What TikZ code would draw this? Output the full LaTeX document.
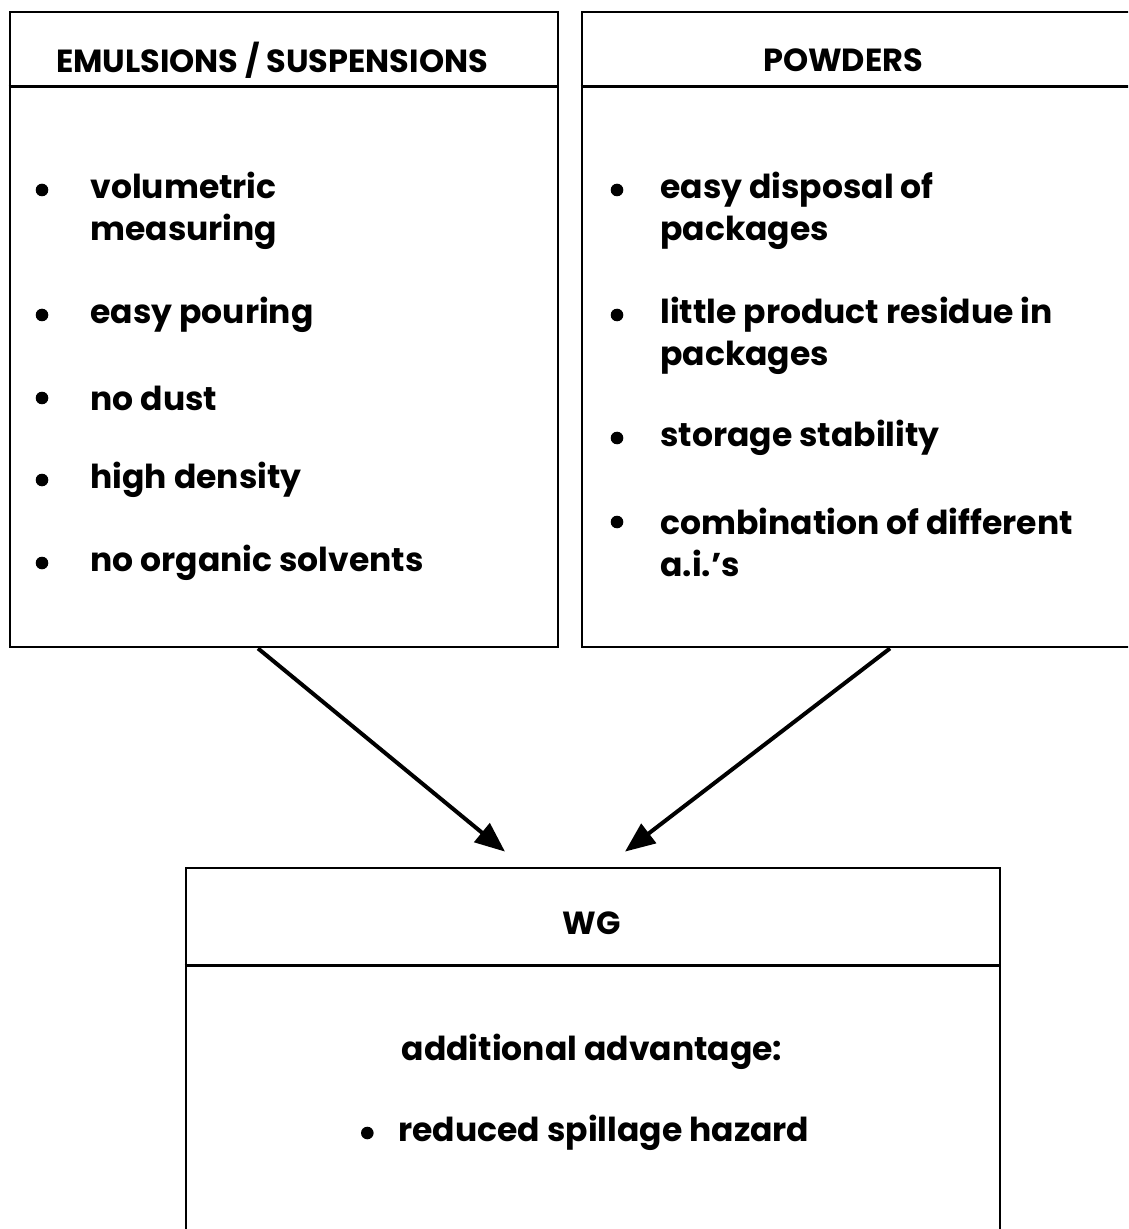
\documentclass[tikz,border=0pt]{standalone}
\usepackage{fontspec}
\setmainfont{Poppins}
\usetikzlibrary{positioning,arrows.meta}
\tikzset{
  panel/.style    = {draw, line width=1.4pt, minimum width=274pt,
                     minimum height=317.5pt, inner sep=0pt},
  wgpanel/.style  = {panel, minimum width=407pt, minimum height=186pt},
  headrule/.style = {line width=1.4pt},
  headlbl/.style  = {font=\bfseries\fontsize{16}{19}\selectfont, inner sep=0pt},
  itemtxt/.style  = {font=\bfseries\fontsize{16.5}{21}\selectfont,
                     align=left, anchor=west, inner sep=0pt},
  dot/.style      = {circle, fill, minimum size=6.3pt, inner sep=0pt},
  flow/.style     = {-{Triangle[length=15pt,width=12pt]}, line width=2pt}
}

\begin{document}
\begin{tikzpicture}[x=0.5pt, y=-0.5pt]
  \clip (0,0) rectangle (1128,1229);
  % Boxes
  \node[panel]   (emul) at (284,329.5) {};
  \node[panel]   (pow)  at (856,329.5) {};
  \node[wgpanel] (wg)   at (593,1054)  {};
  % Header rules
  \draw[headrule] ([yshift=-38pt]emul.north west) -- ([yshift=-38pt]emul.north east);
  \draw[headrule] ([yshift=-38pt]pow.north west)  -- ([yshift=-38pt]pow.north east);
  \draw[headrule] ([yshift=-49.5pt]wg.north west) -- ([yshift=-49.5pt]wg.north east);
  % Headers
  \node[headlbl] (hemul) at (272,60)  {EMULSIONS / SUSPENSIONS};
  \node[headlbl] (hpow)  at (843,60)  {POWDERS};
  \node[headlbl] (hwg)   at (592,923) {WG};
  % Emulsions / suspensions
  \foreach \y in {190,315,398,480,563}
    \node[dot] at (42,\y) {};
  \node[itemtxt] (e1) at (90,211) {volumetric\\measuring};
  \node[itemtxt] (e2) at (90,315) {easy pouring};
  \node[itemtxt] (e3) at (90,398) {no dust};
  \node[itemtxt] (e4) at (90,480) {high density};
  \node[itemtxt] (e5) at (90,563) {no organic solvents};
  % Powders
  \foreach \y in {190,315,438,522}
    \node[dot] at (617,\y) {};
  \node[itemtxt] (p1) at (660,211) {easy disposal of\\packages};
  \node[itemtxt] (p2) at (660,336) {little product residue in\\packages};
  \node[itemtxt] (p3) at (660,438) {storage stability};
  \node[itemtxt] (p4) at (660,542) {combination of different\\a.i.’s};
  % WG
  \node[itemtxt, anchor=center] (w1) at (592,1052) {additional advantage:};
  \node[itemtxt] (w2) at (398,1133) {reduced spillage hazard};
  \node[dot, left=12pt of w2.west] (w2dot) {};
  % Arrows
  \draw[flow] ([xshift=-13pt]emul.south) -- ([xshift=-44pt,yshift=7.5pt]wg.north);
  \draw[flow] ([xshift=17pt]pow.south)   -- ([xshift=16pt,yshift=7.5pt]wg.north);
\end{tikzpicture}
\end{document}
